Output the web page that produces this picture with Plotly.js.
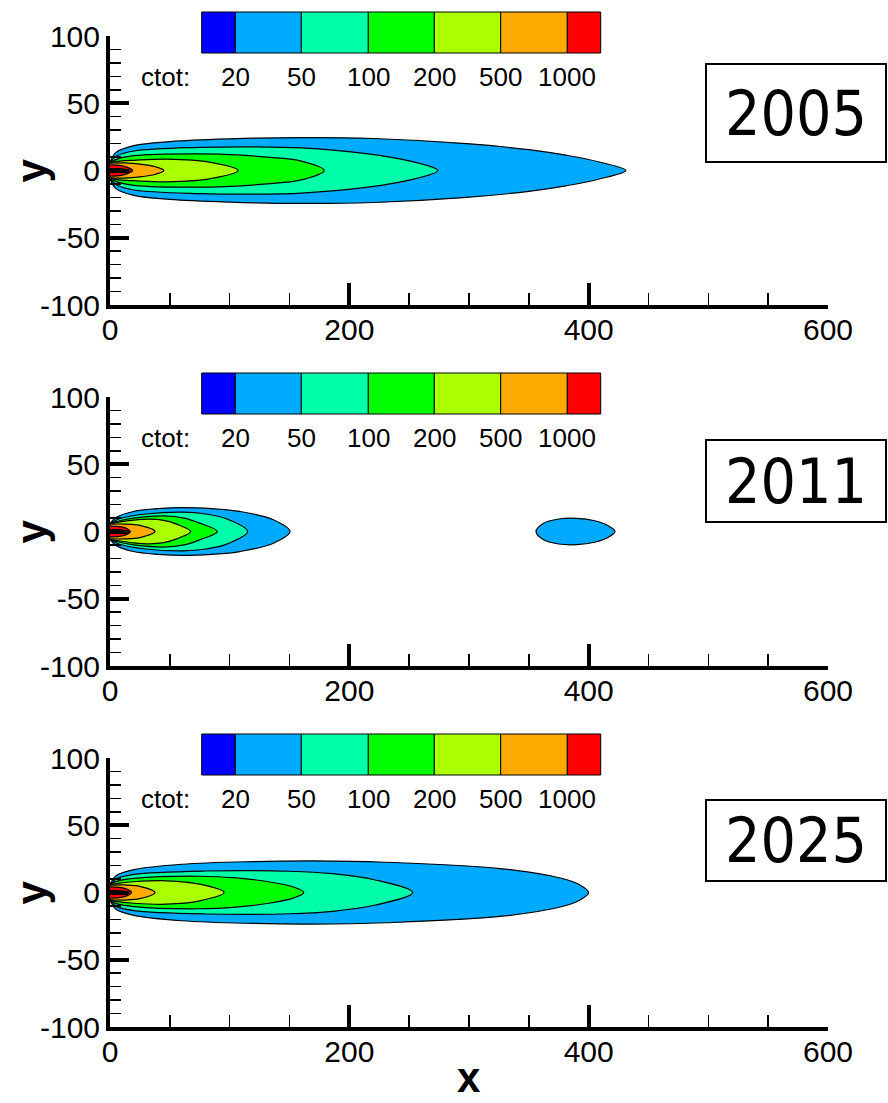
<!DOCTYPE html>
<html>
<head>
<meta charset="utf-8">
<script src="https://cdn.plot.ly/plotly-3.0.1.min.js"></script>
<style>
  html, body { margin: 0; padding: 0; background: #ffffff; }
  #chart { width: 888px; height: 1103px; }
</style>
</head>
<body>
<div id="chart"></div>
<script>
// ---- data ---------------------------------------------------------------
const years = ['2005', '2011', '2025'];
const levels = [20, 50, 100, 200, 500, 1000];
const legendLabels = ['20', '50', '100', '200', '500', '1000'];
const xTickVals = [0, 200, 400, 600];
const xTickText = ['0', '200', '400', '600'];
const yTickVals = [-100, -50, 0, 50, 100];
const yTickText = ['-100', '-50', '0', '50', '100'];

// Plume contours, one row per level (20 ... 1000).
// X: distance along the centre line, W: half-width of the contour there.
const plume2005X = [
  [0, 5, 20, 50, 100, 160, 220, 298, 350, 382, 409, 431],
  [0, 6, 20, 75, 120, 160, 214, 250, 274],
  [0, 6, 20, 75, 110, 131, 159, 179],
  [0, 8, 20, 47, 84, 107],
  [0, 12, 25, 38, 45],
  [0, 8, 14, 19]
];
const plume2005W = [
  [6, 13.5, 18.5, 21.5, 23.5, 24.5, 23.8, 20, 15.5, 11.2, 6.3, 0],
  [6, 11, 14.5, 17.2, 17.6, 16.8, 12.6, 7.2, 0],
  [6, 8.5, 11, 12.4, 11.4, 9.9, 7.2, 0],
  [5.8, 7, 7.6, 8.4, 6, 0],
  [5.5, 5.6, 4.8, 2.8, 0],
  [4.2, 3.8, 2.5, 0]
];
const core2005X = [0, 10, 17];
const core2005W = [1.4, 1.2, 0];

const plume2011X = [
  [0, 5, 19.5, 40, 61, 85, 108.6, 136.5, 150.4],
  [0, 8, 30, 61, 80, 97.5, 115],
  [0, 8, 20, 45, 62, 75, 89.7],
  [0, 8, 20, 33, 45, 55.7, 67.4],
  [0, 12, 25, 37.6],
  [0, 8, 14, 17]
];
const plume2011W = [
  [6, 10.4, 14.9, 17, 17.8, 17, 14.9, 8.7, 0],
  [6, 9.5, 13, 14.4, 13, 9.4, 0],
  [6, 8, 10, 11.6, 10, 6.2, 0],
  [5.8, 7, 8.5, 9.2, 8.3, 5.5, 0],
  [5.5, 5.5, 4.5, 0],
  [4, 3.6, 2.3, 0]
];
const core2011X = [0, 9, 15];
const core2011W = [1.4, 1.2, 0];
// detached patch above level 20 downstream
const patch2011X = [356, 362, 375, 390, 405, 416, 422];
const patch2011W = [0, 6, 9.3, 9.8, 8, 4.5, 0];

const plume2025X = [
  [0, 5, 20, 60, 120, 170, 230, 326, 378, 392, 400],
  [0, 6, 20, 80, 150, 186, 221, 253],
  [0, 6, 20, 75, 105, 131, 153, 162],
  [0, 8, 20, 47, 75, 95.3],
  [0, 12, 25, 37.6],
  [0, 8, 14, 18]
];
const plume2025W = [
  [6, 12.5, 17, 21, 23, 23.5, 22.5, 17.8, 10.4, 6, 0],
  [6, 10.5, 13.5, 16, 15.8, 14, 9.5, 0],
  [6, 8.5, 10.5, 12.1, 10.8, 8.2, 4.2, 0],
  [5.8, 7, 8, 8.7, 6.2, 0],
  [5.5, 5.6, 4.6, 0],
  [4.2, 3.8, 2.5, 0]
];
const core2025X = [0, 10, 16];
const core2025W = [1.4, 1.2, 0];

// ---- styling ------------------------------------------------------------
const W = 888, H = 1103;
const px = v => v / W;
const py = v => 1 - v / H;
const STEP = 361;                         // vertical pitch of the panels (px)
const levelFill = ['#00aaff', '#00ffaa', '#00ff00', '#aaff00', '#ffaa00', '#ff0000'];
const legendFill = ['#0000ff'].concat(levelFill);
const legendEdges = [201.7, 235.3, 301.3, 368.3, 434.3, 500.7, 567.3, 600.7];
const tickFont = { family: 'Liberation Sans, Arial, sans-serif', size: 30, color: '#000' };
const legendFont = { family: 'Liberation Sans, Arial, sans-serif', size: 26, color: '#000' };
const yearFont = { family: 'DejaVu Sans Condensed, DejaVu Sans, sans-serif', size: 62, color: '#000' };
const titleFont = { family: 'Liberation Sans, Arial, sans-serif', size: 42, color: '#000', weight: 'bold' };
const yearBoxes = [[64, 162], [440, 522], [800, 881]];

// closed outline: upper edge out to the tip, mirrored lower edge back
function outline(xs, ws) {
  const x = xs.slice();
  const y = ws.slice();
  for (let i = xs.length - 2; i >= 0; i--) { x.push(xs[i]); y.push(-ws[i]); }
  return { x, y };
}

function region(xs, ws, color, p) {
  const o = outline(xs, ws);
  return {
    type: 'scatter', mode: 'lines', x: o.x, y: o.y,
    xaxis: p ? 'x' + (p + 1) : 'x', yaxis: p ? 'y' + (p + 1) : 'y',
    fill: 'toself', fillcolor: color,
    line: { color: '#000', width: 1.2, shape: 'spline', smoothing: 1 },
    hoverinfo: 'skip', showlegend: false
  };
}

const plumeX = [plume2005X, plume2011X, plume2025X];
const plumeW = [plume2005W, plume2011W, plume2025W];
const coreX = [core2005X, core2011X, core2025X];
const coreW = [core2005W, core2011W, core2025W];

const traces = [];
for (let p = 0; p < 3; p++) {
  for (let k = 0; k < levels.length; k++) {
    traces.push(region(plumeX[p][k], plumeW[p][k], levelFill[k], p));
  }
  traces.push(region(coreX[p], coreW[p], '#000000', p));
}
traces.push(region(patch2011X, patch2011W, levelFill[0], 1));

const layout = {
  width: W, height: H,
  margin: { l: 0, r: 0, t: 0, b: 0 },
  paper_bgcolor: '#ffffff', plot_bgcolor: '#ffffff',
  showlegend: false,
  shapes: [], annotations: []
};

for (let p = 0; p < 3; p++) {
  const sfx = p ? String(p + 1) : '';
  const top = 36 + STEP * p, bottom = 305 + STEP * p;
  layout['xaxis' + sfx] = {
    domain: [px(110), px(828)], anchor: 'y' + sfx,
    range: [0, 600], tickmode: 'array', tickvals: xTickVals, ticktext: xTickText,
    ticks: 'inside', ticklen: 22, tickwidth: 4, tickcolor: '#000', ticklabelstandoff: -5,
    minor: { tickmode: 'linear', tick0: 0, dtick: 50, ticks: 'inside', ticklen: 12, tickwidth: 1.5, tickcolor: '#000' },
    showline: true, linewidth: 4, linecolor: '#000',
    showgrid: false, zeroline: false, tickfont: tickFont, fixedrange: true
  };
  layout['yaxis' + sfx] = {
    domain: [py(bottom), py(top)], anchor: 'x' + sfx,
    range: [-100, 100], tickmode: 'array', tickvals: yTickVals, ticktext: yTickText,
    ticks: 'inside', ticklen: 19, tickwidth: 4, tickcolor: '#000',
    minor: { tickmode: 'linear', tick0: 0, dtick: 10, ticks: 'inside', ticklen: 11, tickwidth: 1.5, tickcolor: '#000' },
    showline: true, linewidth: 4, linecolor: '#000',
    showgrid: false, zeroline: false, tickfont: tickFont, fixedrange: true
  };

  // colour key
  const off = STEP * p;
  for (let i = 0; i < legendFill.length; i++) {
    layout.shapes.push({
      type: 'rect', xref: 'paper', yref: 'paper',
      x0: px(legendEdges[i]), x1: px(legendEdges[i + 1]),
      y0: py(53 + off), y1: py(12 + off),
      fillcolor: legendFill[i], line: { color: '#000', width: 1 }
    });
  }
  layout.annotations.push({
    xref: 'paper', yref: 'paper', x: px(165), y: py(77 + off),
    text: 'ctot:', showarrow: false, font: legendFont, xanchor: 'center', yanchor: 'middle'
  });
  for (let i = 0; i < legendLabels.length; i++) {
    layout.annotations.push({
      xref: 'paper', yref: 'paper', x: px(legendEdges[i + 1]), y: py(77 + off),
      text: legendLabels[i], showarrow: false, font: legendFont,
      xanchor: 'center', yanchor: 'middle'
    });
  }

  // year box
  const b = yearBoxes[p];
  layout.shapes.push({
    type: 'rect', xref: 'paper', yref: 'paper',
    x0: px(706), x1: px(886), y0: py(b[1]), y1: py(b[0]),
    fillcolor: 'rgba(0,0,0,0)', line: { color: '#000', width: 2 }
  });
  layout.annotations.push({
    xref: 'paper', yref: 'paper', x: px(796), y: py((b[0] + b[1]) / 2),
    text: years[p], showarrow: false, font: yearFont, xanchor: 'center', yanchor: 'middle'
  });

  // axis letter y
  layout.annotations.push({
    xref: 'paper', yref: 'paper', x: px(31), y: py(170.5 + off),
    text: 'y', textangle: -90, showarrow: false, font: titleFont,
    xanchor: 'center', yanchor: 'middle'
  });
}
layout.annotations.push({
  xref: 'paper', yref: 'paper', x: px(469), y: py(1103),
  text: 'x', showarrow: false, font: titleFont, xanchor: 'center', yanchor: 'bottom'
});

Plotly.newPlot('chart', traces, layout, { staticPlot: true, displayModeBar: false });
</script>
</body>
</html>
